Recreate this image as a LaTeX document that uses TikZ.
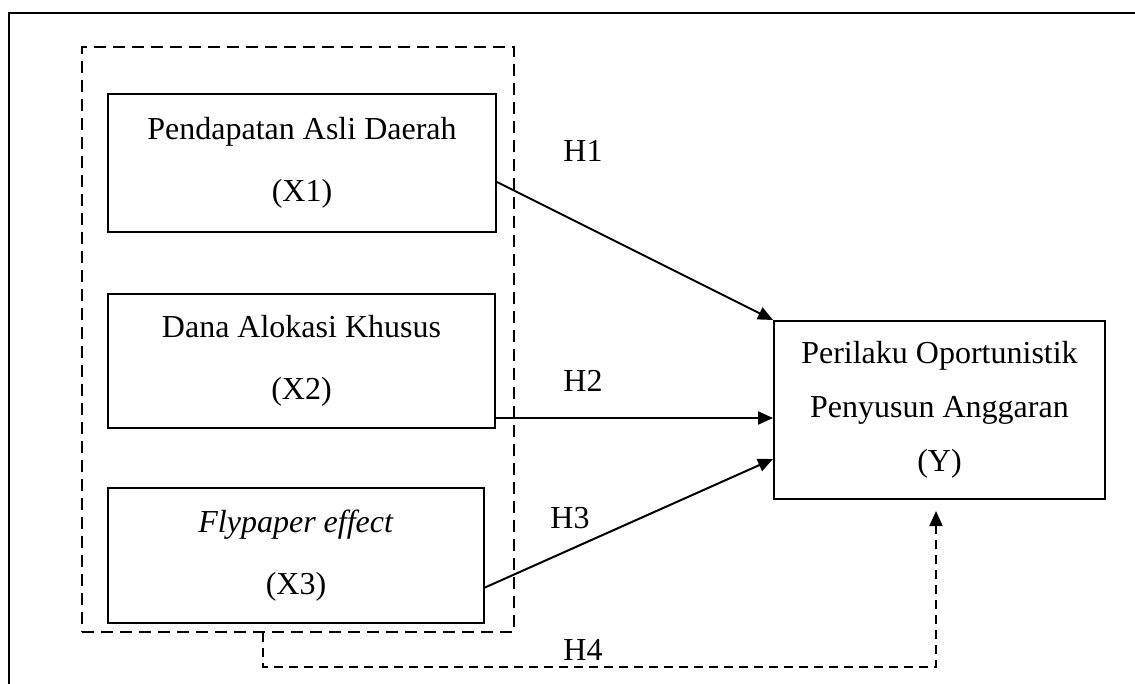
\documentclass[tikz,border=0pt]{standalone}
\usepackage{fontspec}
\setmainfont{Liberation Serif}
\usetikzlibrary{arrows.meta}
\def\boxfont{\fontsize{32}{62}\selectfont}
\def\yfont{\fontsize{32}{54}\selectfont}
\tikzset{
	var/.style={draw,line width=2pt,align=center,font=\boxfont,inner sep=0pt},
	hyp/.style={line width=2pt,-{Triangle[length=15pt,width=13pt]}},
	hlabel/.style={font=\fontsize{32}{38}\selectfont,inner sep=0pt}
}

\begin{document}
\begin{tikzpicture}[x=1pt,y=-1pt]
			\useasboundingbox (0,0) rectangle (1135,684);
			% frame
			\draw[line width=2.5pt] (9,690) -- (9,13) -- (1140,13);
			% variables
			\node[var,minimum width=388pt,minimum height=138pt] (x1) at (302,163) {Pendapatan Asli Daerah\\(X1)};
			\node[var,minimum width=387pt,minimum height=134pt] (x2) at (301.5,361) {Dana Alokasi Khusus\\(X2)};
			\node[var,minimum width=376pt,minimum height=135pt] (x3) at (296,555.5) {\textit{Flypaper effect}\\(X3)};
			\node[var,font=\yfont,minimum width=331pt,minimum height=178pt] (y) at (939.5,410) {Perilaku Oportunistik\\Penyusun Anggaran\\(Y)};
			\node[draw,dash pattern=on 12pt off 7pt,line width=2.5pt,minimum width=432pt,minimum height=585pt] (grp) at (298,339.5) {};
			% hypotheses
			\coordinate (s2) at ([yshift=-57pt]x2.east);
			\draw[hyp] ([yshift=-19pt]x1.east) -- (y.north west);
			\draw[hyp] (s2) -- (s2 -| y.west);
			\draw[hyp] ([yshift=-32pt]x3.east) -- ([yshift=-49pt]y.west);
			\draw[hyp,dash pattern=on 9pt off 6pt] ([xshift=-35pt]grp.south) -- ++(0,34) -| ([xshift=-3.5pt,yshift=-11pt]y.south);
			\node[hlabel] (h1) at (583,151) {H1};
			\node[hlabel] (h2) at (583,381) {H2};
			\node[hlabel] (h3) at (570,518) {H3};
			\node[hlabel] (h4) at (583,650) {H4};
		\end{tikzpicture}
\end{document}
